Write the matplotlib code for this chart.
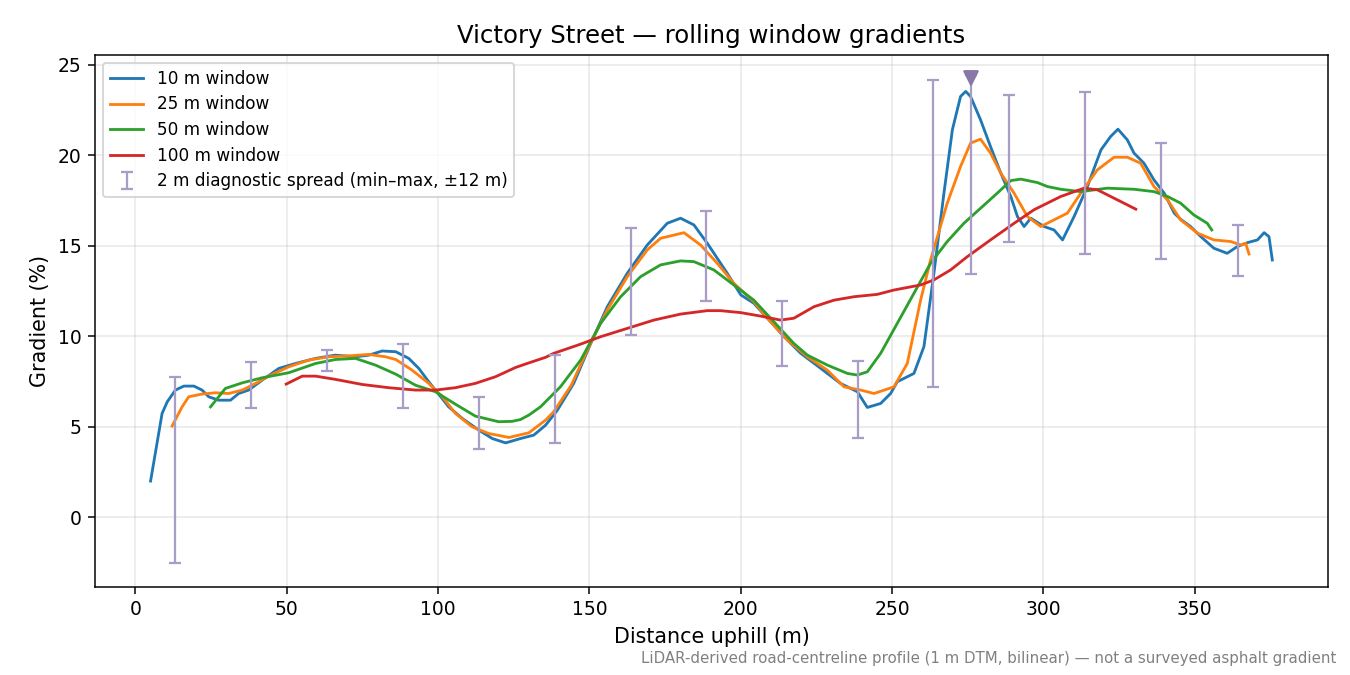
import numpy as np
import matplotlib
matplotlib.use("Agg")
import matplotlib.pyplot as plt

# rolling window gradients (distance m, gradient %)
d10 = [5, 8.8, 10.5, 13.2, 16, 19.3, 22, 24.2, 27.5, 31.4, 34.1, 37.4, 41.9, 47.4, 52.9, 59.5, 66, 72.7,
       77.1, 81.5, 86, 90.3, 93.6, 96.9, 99.1, 103.5, 108, 113.5, 117.9, 122.3, 127.2, 131.6, 135.5, 139.4,
       144.8, 150.4, 155.9, 162.5, 169.1, 175.7, 180.1, 184.5, 188.9, 195.5, 200, 204.3, 208.8, 214.3,
       219.8, 226.4, 232.9, 238.5, 241.8, 246.2, 249.5, 251.7, 257.2, 260.5, 263.8, 267.1, 269.9, 272.6,
       274.3, 275.9, 279.2, 282.5, 285.9, 289.2, 291.4, 293.6, 295.8, 300.2, 303.5, 306.3, 310.1, 314.5,
       319, 322.2, 324.6, 327.7, 329.9, 333.2, 336.5, 339.9, 343.2, 345.3, 348.6, 352, 356.3, 360.7, 364,
       367.4, 370.7, 372.9, 374.5, 375.6]
g10 = [2.0, 5.74, 6.38, 7.03, 7.25, 7.25, 7.03, 6.66, 6.47, 6.47, 6.84, 7.03, 7.58, 8.23, 8.5, 8.78, 8.96, 8.87,
       8.96, 9.19, 9.15, 8.78, 8.23, 7.49, 7.03, 6.1, 5.46, 4.81, 4.35, 4.11, 4.35, 4.54, 5.09, 5.92,
       7.4, 9.6, 11.64, 13.49, 15.05, 16.25, 16.53, 16.16, 15.15, 13.49, 12.29, 11.83, 11.0, 9.98,
       9.06, 8.23, 7.4, 6.94, 6.07, 6.29, 6.84, 7.49, 7.95, 9.43, 13.49, 17.9, 21.42, 23.26,
       23.54, 23.26, 21.97, 20.49, 19.02, 17.73, 16.62, 16.07, 16.53, 16.07, 15.88, 15.33, 16.62, 18.28,
       20.31, 21.05, 21.45, 20.86, 20.13, 19.57, 18.65, 17.91, 16.81, 16.47, 16.07, 15.51, 14.87, 14.59, 14.96,
       15.18, 15.33, 15.73, 15.51, 14.22]

d25 = [12.1, 15.4, 17.6, 22, 26.4, 30.8, 35.3, 39.7, 44, 50.7, 57.3, 63.9, 70.5, 77.1, 82.6, 86, 91.4, 96.9,
       101.4, 105.7, 111.2, 116.7, 123.4, 130, 135.5, 138.2, 144, 149.3, 155.9, 162.5, 169.1, 173.5, 181.2,
       186.7, 192.2, 197.7, 204.3, 208.8, 215.4, 222, 228.6, 234.1, 239.6, 244, 250.6, 255, 259.4, 262.7,
       268.2, 272.6, 275.9, 279.2, 282.5, 285.9, 290.3, 294.7, 299.1, 303.5, 307.9, 312.3, 317.8, 323.3,
       327.7, 332.1, 336.5, 341, 345.3, 350.9, 356.3, 361.9, 365.2, 366.8, 367.9]
g25 = [5.04, 6.1, 6.66, 6.81, 6.88, 6.84, 7.03, 7.4, 7.8, 8.32, 8.69, 8.87, 8.92, 9.0, 8.87, 8.72, 8.13, 7.4,
       6.66, 5.74, 5.0, 4.63, 4.41, 4.67, 5.37, 5.83, 7.3, 9.24, 11.46, 13.3, 14.78, 15.42, 15.73,
       15.05, 14.04, 12.93, 11.92, 11.0, 9.8, 8.87, 8.13, 7.21, 7.03, 6.84, 7.21, 8.5, 12.0, 14.22,
       17.36, 19.39, 20.68, 20.9, 20.13, 19.02, 17.91, 16.62, 16.07, 16.44, 16.81, 17.91, 19.2, 19.9,
       19.9, 19.57, 18.28, 17.54, 16.44, 15.7, 15.33, 15.24, 15.05, 15.14, 14.55]

d50 = [24.8, 29.7, 35.3, 41.9, 50.7, 59.5, 66.1, 72.7, 79.3, 86, 92.5, 99.1, 105.7, 112.3, 120, 124.4, 127.2,
       130, 133.8, 140.4, 147.1, 153.7, 160.3, 166.9, 173.5, 180.1, 184.5, 191.1, 197.7, 204.3, 210.9, 217.5,
       222, 228.6, 235.2, 238.5, 241.8, 246.2, 251.7, 257.2, 262.7, 268.2, 273.7, 279.2, 284.7, 289.2, 292.5,
       298, 301.3, 305.7, 312.3, 321.1, 329.9, 336.5, 341, 345.3, 349.7, 354.1, 355.6]
g50 = [6.1, 7.12, 7.43, 7.71, 7.99, 8.5, 8.72, 8.78, 8.41, 7.91, 7.3, 6.94, 6.25, 5.59, 5.28, 5.3, 5.4,
       5.65, 6.1, 7.21, 8.69, 10.72, 12.19, 13.3, 13.95, 14.17, 14.13, 13.67, 12.84, 12.0, 10.81, 9.61,
       8.96, 8.41, 7.95, 7.86, 8.04, 9.06, 10.72, 12.38, 14.04, 15.24, 16.25, 17.08, 17.91, 18.61, 18.69,
       18.5, 18.28, 18.13, 18.0, 18.19, 18.13, 18.0, 17.73, 17.36, 16.71, 16.25, 15.88]

d100 = [49.8, 55.1, 59.5, 66.1, 74.9, 83.7, 92.5, 99.1, 105.7, 112.3, 119, 125.6, 129.4, 135.5, 138.2, 147.1,
        153.7, 162.5, 171.3, 180.1, 188.9, 193.3, 200, 206.5, 213.1, 217.5, 224.2, 230.8, 237.4, 245.1, 250.6,
        259.4, 263.8, 269.3, 274.8, 282.5, 290.3, 296.9, 305.7, 313.4, 317.8, 322.2, 326.6, 330.5]
g100 = [7.36, 7.8, 7.8, 7.62, 7.34, 7.16, 7.03, 7.03, 7.16, 7.4, 7.77, 8.28, 8.5, 8.84, 9.06, 9.57,
        9.98, 10.44, 10.9, 11.23, 11.42, 11.42, 11.31, 11.12, 10.9, 11.0, 11.64, 12.0, 12.19, 12.32, 12.56,
        12.84, 13.12, 13.67, 14.4, 15.33, 16.25, 17.0, 17.73, 18.19, 18.1, 17.73, 17.36, 17.03]

# 2 m diagnostic spread (min / max within +-12 m)
spread_d = [13.2, 38.3, 63.4, 88.5, 113.6, 138.7, 163.6, 188.4, 213.5, 238.6, 263.4, 276.1, 288.5, 313.6, 338.7, 364.1]
spread_lo = [-2.53, 6.05, 8.1, 6.05, 3.76, 4.11, 10.07, 11.97, 8.37, 4.39, 7.21, 13.43, 15.24, 14.54, 14.26, 13.35]
spread_hi = [7.75, 8.6, 9.26, 9.57, 6.66, 8.97, 16.01, 16.95, 11.97, 8.65, 24.18, 24.45, 23.32, 23.48, 20.71, 16.18]

peak_d = 276.1
peak_g = 24.28

fig, ax = plt.subplots(figsize=(10, 5), dpi=135)

ax.plot(d10, g10, color='tab:blue', lw=1.5, label='10 m window')
ax.plot(d25, g25, color='tab:orange', lw=1.5, label='25 m window')
ax.plot(d50, g50, color='tab:green', lw=1.5, label='50 m window')
ax.plot(d100, g100, color='tab:red', lw=1.5, label='100 m window')

lo = np.array(spread_lo)
hi = np.array(spread_hi)
ax.errorbar(spread_d, lo, yerr=[np.zeros_like(lo), hi - lo], fmt='none', ecolor='#a89dc6',
            elinewidth=1.2, capsize=3, capthick=1.2, label='2 m diagnostic spread (min\u2013max, \u00b112 m)')
ax.plot([peak_d], [peak_g], marker='v', color='#8878a8', markersize=7, linestyle='none', zorder=5)

ax.set_ylim(-3.87, 25.57)
ax.set_title('Victory Street \u2014 rolling window gradients', fontsize=13)
ax.set_xlabel('Distance uphill (m)', fontsize=11)
ax.set_ylabel('Gradient (%)', fontsize=11)
ax.grid(True, alpha=0.3)
ax.legend(loc='upper left', fontsize=9, labelspacing=0.45)

fig.text(0.99, 0.013, 'LiDAR-derived road-centreline profile (1 m DTM, bilinear) \u2014 not a surveyed asphalt gradient',
         ha='right', va='bottom', fontsize=8, color='gray')

fig.subplots_adjust(left=0.070, right=0.984, top=0.919, bottom=0.130)
fig.savefig('out.png', dpi=135)
